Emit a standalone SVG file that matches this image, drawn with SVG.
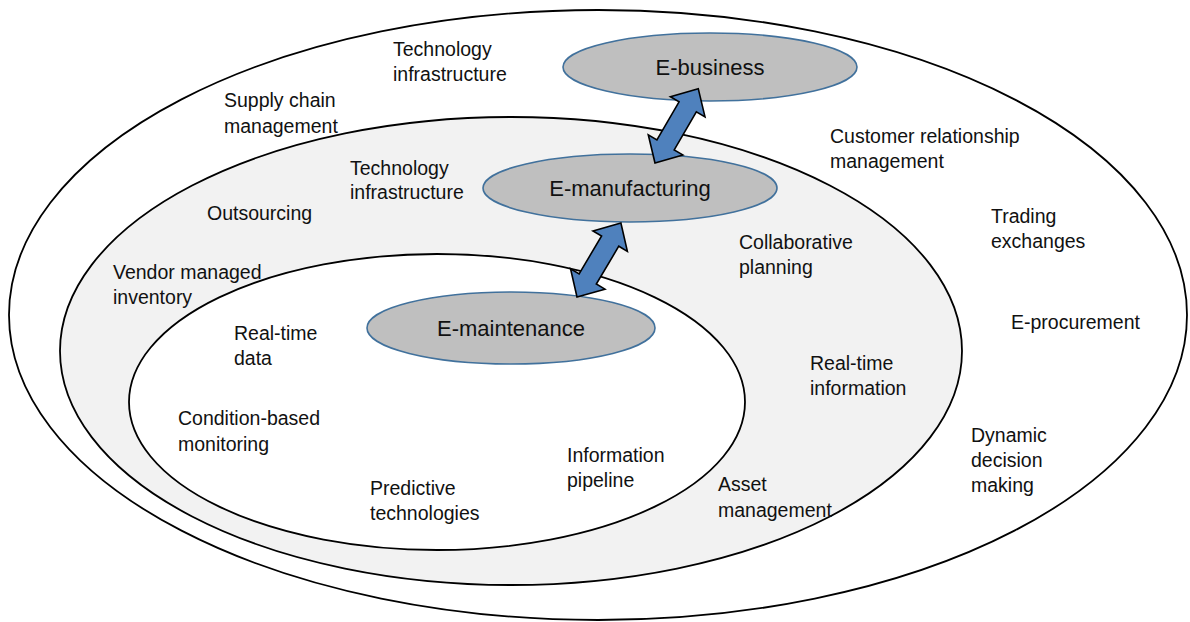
<svg xmlns="http://www.w3.org/2000/svg" width="1190" height="622" viewBox="0 0 1190 622">
<style>
.ring{stroke:#000;stroke-width:1.8}
.node{fill:#bfbfbf;stroke:#41719c;stroke-width:1.6}
.lbl{font-family:"Liberation Sans",Arial,sans-serif;font-size:19.5px;fill:#111}
.nlbl{font-family:"Liberation Sans",Arial,sans-serif;font-size:22px;fill:#111;text-anchor:middle}
.arr{fill:#4f81bd;stroke:#000;stroke-width:1.6;stroke-linejoin:miter}
</style>
<defs>
<path id="dblarrow" d="M0,0 L21,-20 L21,-10 L65,-10 L65,-20 L86,0 L65,20 L65,10 L21,10 L21,20 Z"/>
</defs>
<rect width="1190" height="622" fill="#fff"/>
<g id="rings">
<ellipse id="outer" class="ring" cx="598" cy="315" rx="589" ry="305" fill="#fff"/>
<ellipse id="middle" class="ring" cx="511" cy="351" rx="451" ry="234" fill="#f2f2f2"/>
<ellipse id="inner" class="ring" cx="437" cy="402" rx="308" ry="148" fill="#fff"/>
</g>
<g id="ebusiness">
<ellipse class="node" cx="710" cy="67" rx="147" ry="34"/>
<text class="nlbl" x="710" y="75">E-business</text>
</g>
<g id="emanufacturing">
<ellipse class="node" cx="630" cy="188" rx="147" ry="34"/>
<text class="nlbl" x="630" y="196">E-manufacturing</text>
</g>
<g id="emaintenance">
<ellipse class="node" cx="511" cy="328" rx="144" ry="36"/>
<text class="nlbl" x="511" y="336">E-maintenance</text>
</g>
<g id="connectors">
<use href="#dblarrow" class="arr" transform="translate(655,163) rotate(-59.8)"/>
<use href="#dblarrow" class="arr" transform="translate(577,297) rotate(-59.3)"/>
</g>
<g id="labels">
<text class="lbl" x="393" y="56">Technology</text>
<text class="lbl" x="393" y="81">infrastructure</text>
<text class="lbl" x="224" y="107">Supply chain</text>
<text class="lbl" x="224" y="133">management</text>
<text class="lbl" x="830" y="143">Customer relationship</text>
<text class="lbl" x="830" y="168">management</text>
<text class="lbl" x="350" y="175">Technology</text>
<text class="lbl" x="350" y="199">infrastructure</text>
<text class="lbl" x="207" y="220">Outsourcing</text>
<text class="lbl" x="991" y="223">Trading</text>
<text class="lbl" x="991" y="248">exchanges</text>
<text class="lbl" x="739" y="249">Collaborative</text>
<text class="lbl" x="739" y="274">planning</text>
<text class="lbl" x="113" y="279">Vendor managed</text>
<text class="lbl" x="113" y="304">inventory</text>
<text class="lbl" x="1011" y="329">E-procurement</text>
<text class="lbl" x="234" y="340">Real-time</text>
<text class="lbl" x="234" y="365">data</text>
<text class="lbl" x="810" y="370">Real-time</text>
<text class="lbl" x="810" y="395">information</text>
<text class="lbl" x="178" y="425">Condition-based</text>
<text class="lbl" x="178" y="451">monitoring</text>
<text class="lbl" x="971" y="442">Dynamic</text>
<text class="lbl" x="971" y="467">decision</text>
<text class="lbl" x="971" y="492">making</text>
<text class="lbl" x="567" y="462">Information</text>
<text class="lbl" x="567" y="487">pipeline</text>
<text class="lbl" x="370" y="495">Predictive</text>
<text class="lbl" x="370" y="520">technologies</text>
<text class="lbl" x="718" y="491">Asset</text>
<text class="lbl" x="718" y="517">management</text>
</g>
</svg>
